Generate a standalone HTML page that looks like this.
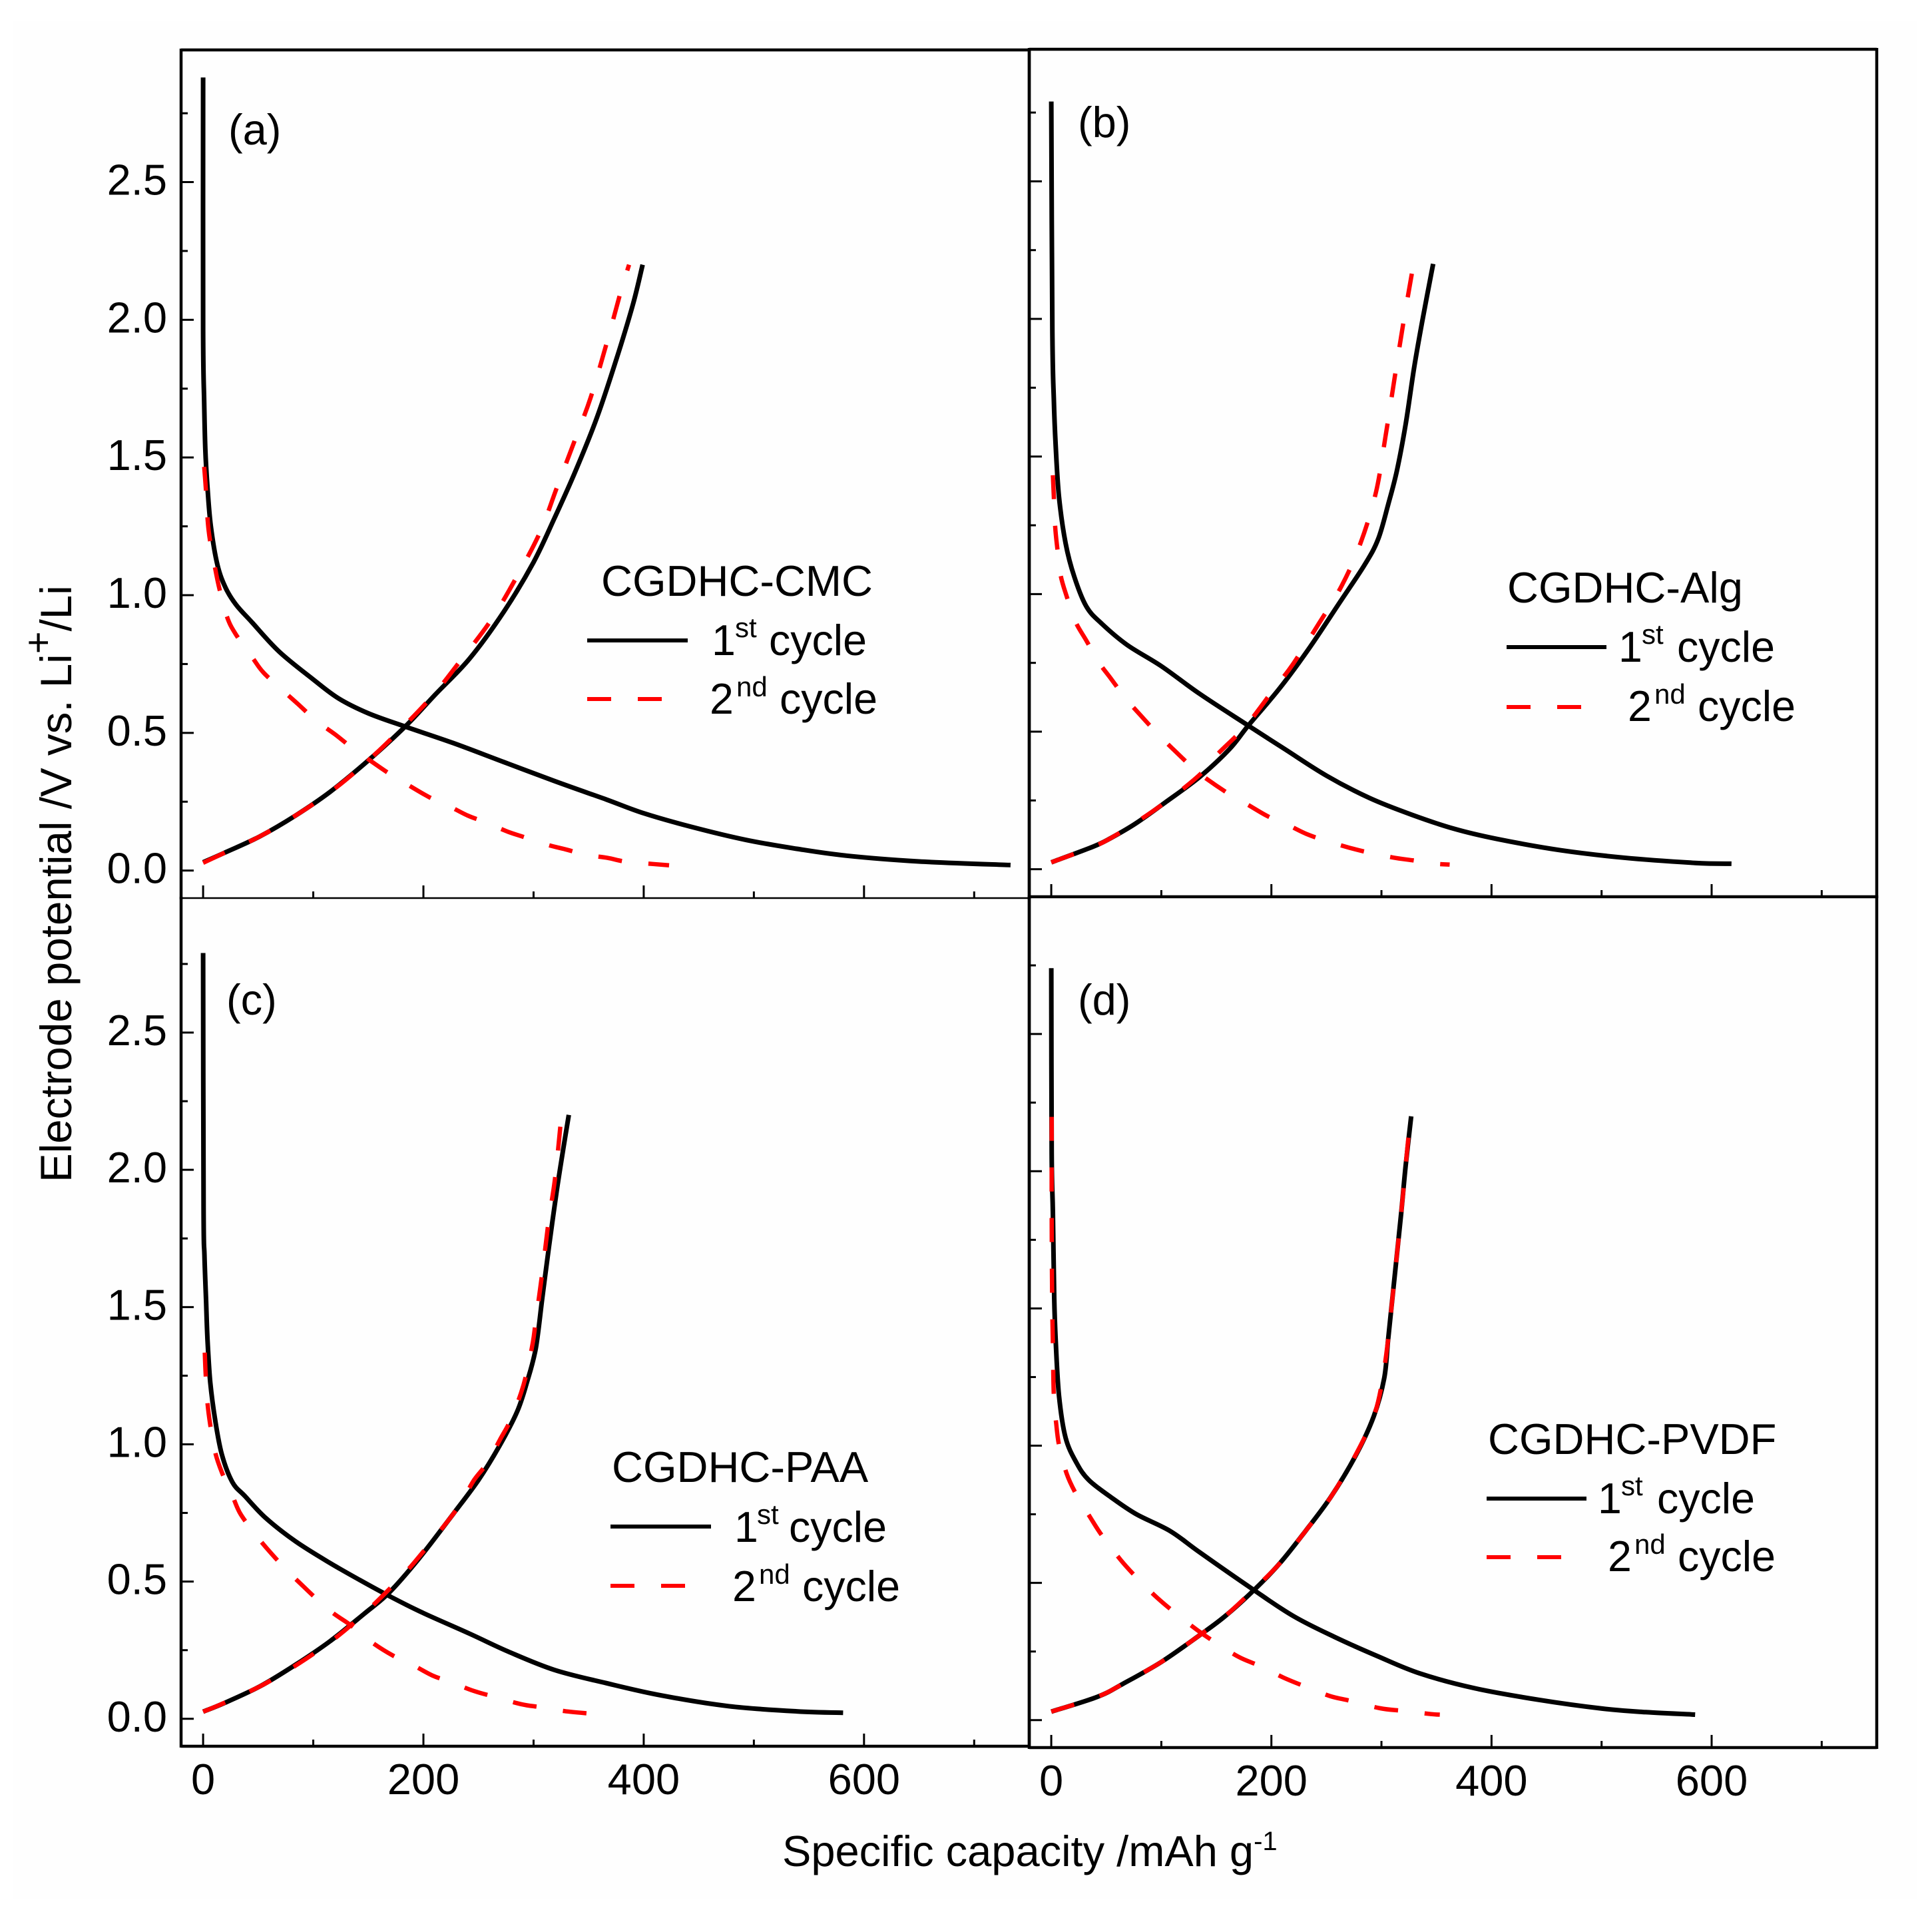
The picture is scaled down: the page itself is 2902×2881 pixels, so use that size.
<!DOCTYPE html>
<html lang="en">
<head>
<meta charset="utf-8">
<title>Electrode potential vs specific capacity</title>
<style>
html,body{margin:0;padding:0;background:#fff;width:2902px;height:2881px;overflow:hidden}
svg{display:block}
text{font-family:"Liberation Sans",Arial,sans-serif;fill:#000}
</style>
</head>
<body>
<svg id="chart" xmlns="http://www.w3.org/2000/svg" width="2902" height="2881" viewBox="0 0 2902 2881">
  <rect x="0" y="0" width="2902" height="2881" fill="#ffffff"/>
  <rect x="19" y="32" width="2860" height="2820" fill="#fefefe"/>
  <g id="marks"></g>

  <text transform="translate(107,1776) rotate(-90)" font-size="65.5">Electrode potential /V vs. Li<tspan font-size="58" dy="-30">+</tspan><tspan dy="30">/Li</tspan></text>
  <text x="1175" y="2803" font-size="65">Specific capacity /mAh g<tspan font-size="40" dy="-24">-1</tspan></text>

  <text x="343" y="217" font-size="65">(a)</text>
  <text x="1619" y="206" font-size="65">(b)</text>
  <text x="340" y="1524" font-size="65">(c)</text>
  <text x="1619" y="1524" font-size="65">(d)</text>

  <g>
    <text x="903" y="895" font-size="65">CGDHC-CMC</text>
    <line x1="882" y1="962" x2="1033" y2="962" stroke="#000" stroke-width="6"/>
    <line x1="882" y1="1050" x2="995" y2="1050" stroke="#f00" stroke-width="6" stroke-dasharray="36 40"/>
    <text x="1069" y="984" font-size="64.5">1<tspan font-size="42" x="1104" y="957">st</tspan><tspan x="1155" y="984">cycle</tspan></text>
    <text x="1066" y="1072" font-size="64.5">2<tspan font-size="42" x="1106" y="1046">nd</tspan><tspan x="1171" y="1072">cycle</tspan></text>
  </g>
  <g>
    <text x="2264" y="905" font-size="65">CGDHC-Alg</text>
    <line x1="2263" y1="972" x2="2413" y2="972" stroke="#000" stroke-width="6"/>
    <line x1="2263" y1="1062" x2="2376" y2="1062" stroke="#f00" stroke-width="6" stroke-dasharray="36 40"/>
    <text x="2431" y="994" font-size="64.5">1<tspan font-size="42" x="2466" y="967">st</tspan><tspan x="2519" y="994">cycle</tspan></text>
    <text x="2445" y="1083" font-size="64.5">2<tspan font-size="42" x="2485" y="1057">nd</tspan><tspan x="2550" y="1083">cycle</tspan></text>
  </g>
  <g>
    <text x="919" y="2226" font-size="65">CGDHC-PAA</text>
    <line x1="917" y1="2293" x2="1068" y2="2293" stroke="#000" stroke-width="6"/>
    <line x1="917" y1="2382" x2="1030" y2="2382" stroke="#f00" stroke-width="6" stroke-dasharray="36 40"/>
    <text x="1103" y="2316" font-size="64.5">1<tspan font-size="42" x="1137" y="2289">st</tspan><tspan x="1185" y="2316">cycle</tspan></text>
    <text x="1100" y="2405" font-size="64.5">2<tspan font-size="42" x="1140" y="2379">nd</tspan><tspan x="1205" y="2405">cycle</tspan></text>
  </g>
  <g>
    <text x="2235" y="2184" font-size="65">CGDHC-PVDF</text>
    <line x1="2233" y1="2251" x2="2383" y2="2251" stroke="#000" stroke-width="6"/>
    <line x1="2233" y1="2339" x2="2346" y2="2339" stroke="#f00" stroke-width="6" stroke-dasharray="36 40"/>
    <text x="2400" y="2273" font-size="64.5">1<tspan font-size="42" x="2435" y="2246">st</tspan><tspan x="2489" y="2273">cycle</tspan></text>
    <text x="2415" y="2360" font-size="64.5">2<tspan font-size="42" x="2455" y="2334">nd</tspan><tspan x="2520" y="2360">cycle</tspan></text>
  </g>
</svg>
<script>
// Tick values and labels
const xMajorTicks = [0, 200, 400, 600];
const xMinorTicks = [100, 300, 500, 700];
const xTickLabels = ['0', '200', '400', '600'];
const yMajorTicks = [0, 0.5, 1, 1.5, 2, 2.5];
const yMinorTicks = [0.25, 0.75, 1.25, 1.75, 2.25, 2.75];
const yTickLabels = ['0.0', '0.5', '1.0', '1.5', '2.0', '2.5'];

// Panel (a) CGDHC-CMC
const aFirstDischargeCap = [0,0,1,2,4,7,13,20.5,30,44,69,100,123,150,184,227,273,319,366,400,443,493,539,584,650,733];
const aFirstDischargeV = [2.88,1.96,1.7,1.53,1.39,1.25,1.11,1.026,0.965,0.903,0.795,0.694,0.625,0.571,0.522,0.463,0.394,0.325,0.258,0.208,0.159,0.111,0.079,0.054,0.033,0.02];
const aFirstChargeCap = [0,18,51,84,115,150,184,211,242,273,300,319,338,358,377,390.5,399];
const aFirstChargeV = [0.03,0.062,0.123,0.2,0.285,0.4,0.525,0.64,0.77,0.94,1.12,1.28,1.45,1.65,1.88,2.06,2.2];
const aSecondDischargeCap = [1,2.4,5,11,15,22,30,45,55,74,86,103,120,136,150,169,184,205,221,240,256,276,291,313,329,348,367,381,396,423];
const aSecondDischargeV = [1.466,1.39,1.235,1.096,1.02,0.918,0.856,0.772,0.718,0.648,0.605,0.543,0.494,0.443,0.404,0.352,0.316,0.267,0.239,0.2,0.176,0.142,0.122,0.093,0.077,0.057,0.046,0.034,0.028,0.019];
const aSecondChargeCap = [0,17,51,84,117,150,180.5,209.5,234,261.5,284.5,305.7,321,338.5,352,367.4,379,386.7];
const aSecondChargeV = [0.028,0.06,0.123,0.2,0.29,0.4,0.517,0.64,0.764,0.91,1.065,1.227,1.389,1.574,1.72,1.93,2.1,2.2];

// Panel (b) CGDHC-Alg
const bFirstDischargeCap = [0,1,2.3,4,7,13,21,32,46,69,100,135,179,212,250,289,327.5,366,405,463,520,585,618];
const bFirstDischargeV = [2.79,1.957,1.71,1.54,1.355,1.185,1.062,0.954,0.892,0.815,0.738,0.637,0.522,0.437,0.34,0.259,0.198,0.147,0.11,0.069,0.042,0.023,0.02];
const bFirstChargeCap = [0,38,54,77,104,135,162,179,208,235,262,285,297,306,314,322,329.5,337,347];
const bFirstChargeV = [0.025,0.082,0.113,0.167,0.244,0.336,0.437,0.522,0.66,0.807,0.969,1.108,1.2,1.324,1.448,1.617,1.818,1.99,2.2];
const bSecondDischargeCap = [1.5,2.3,3.5,5.4,8.5,14,22,32,43,54,68,81,96,109.5,129,141,162,178,196,212,232,250,270,287,310,329,349,362];
const bSecondDischargeV = [1.432,1.355,1.247,1.17,1.069,0.992,0.9,0.83,0.753,0.694,0.619,0.56,0.495,0.441,0.367,0.329,0.272,0.236,0.194,0.167,0.128,0.103,0.079,0.062,0.043,0.032,0.02,0.017];
const bSecondChargeCap = [0,38,54,77,106,135,150,177,202,219.5,243,264,281,295,303.6,312,320,328];
const bSecondChargeV = [0.025,0.082,0.113,0.17,0.25,0.344,0.414,0.522,0.653,0.745,0.892,1.031,1.185,1.37,1.571,1.787,1.988,2.173];

// Panel (c) CGDHC-PAA
const cFirstDischargeCap = [0,0.4,1.2,2.7,4,6.5,11,17,26.6,38,57,84,115,142,170,200,242,277,319,366,416,477,539,581];
const cFirstDischargeV = [2.79,1.86,1.69,1.52,1.38,1.226,1.087,0.963,0.862,0.811,0.731,0.646,0.568,0.506,0.445,0.385,0.31,0.245,0.178,0.13,0.085,0.046,0.027,0.022];
const cFirstChargeCap = [0,19,52,84,115,146,169,196,227,250,269,285,294,302,308,314,321,327,332];
const cFirstChargeV = [0.026,0.057,0.119,0.197,0.282,0.382,0.46,0.584,0.746,0.87,0.994,1.118,1.226,1.35,1.536,1.72,1.923,2.077,2.2];
const cSecondDischargeCap = [1.5,2.3,4,6.5,11,17,27,34,48,60,75,88,104,118,134,152,172,190,208,226,246,265.5,289,307,328,348];
const cSecondDischargeV = [1.334,1.257,1.149,1.071,0.97,0.898,0.808,0.746,0.669,0.611,0.545,0.494,0.433,0.385,0.341,0.282,0.231,0.197,0.158,0.132,0.101,0.079,0.053,0.042,0.028,0.02];
const cSecondChargeCap = [0,17,52,84,117,148,181,198,224,235,246,258,269.5,279,288.6,294,299.4,302,308,313.7,319.5,325];
const cSecondChargeV = [0.026,0.054,0.119,0.194,0.285,0.39,0.522,0.6,0.73,0.793,0.87,0.932,1.017,1.087,1.187,1.265,1.373,1.45,1.628,1.814,1.969,2.186];

// Panel (d) CGDHC-PVDF
const dFirstDischargeCap = [0,0.4,1.5,2.7,4,7,13,23,34,54,77,108,135,183,220,258,297,335,385,443,501,540,585];
const dFirstDischargeV = [2.74,2.067,1.85,1.54,1.385,1.184,1.029,0.937,0.875,0.813,0.751,0.689,0.611,0.477,0.379,0.302,0.232,0.17,0.116,0.074,0.042,0.029,0.02];
const dFirstChargeCap = [0,42,65,100,135,158,185,208,231,254,277,293,302.5,306,310,314,318,322,327];
const dFirstChargeV = [0.031,0.085,0.132,0.212,0.31,0.379,0.477,0.573,0.689,0.813,0.967,1.107,1.246,1.385,1.54,1.695,1.85,2.02,2.2];
const dSecondDischargeCap = [0.4,0.4,0.8,1.5,2.3,4.6,7.3,14,22,36,46,63,76,94,110,132,148,170,189,211,229,253,272,299,319,345,353];
const dSecondDischargeV = [2.198,1.85,1.54,1.37,1.184,1.076,0.998,0.898,0.828,0.735,0.673,0.584,0.526,0.454,0.399,0.33,0.286,0.231,0.198,0.155,0.125,0.088,0.07,0.043,0.034,0.022,0.02];
const dSecondChargeCap = [0,42,65,100,135,158,185,208,231,254,277,293,300.5,306,310,314,318,322,325];
const dSecondChargeV = [0.031,0.085,0.132,0.212,0.31,0.379,0.48,0.573,0.689,0.813,0.97,1.107,1.23,1.385,1.54,1.695,1.85,2.02,2.144];

const NS = 'http://www.w3.org/2000/svg';
const marks = document.getElementById('marks');

function makeScale(d0, d1, r0, r1) {
  return function (v) { return r0 + (v - d0) * (r1 - r0) / (d1 - d0); };
}

const panels = [
  { id: 'a', left: 272, right: 1546, top: 75, bottom: 1349, yMin: -0.1, yMax: 2.98, labelY: true, labelX: false,
    curves: [[aFirstDischargeCap, aFirstDischargeV, aFirstChargeCap, aFirstChargeV], [aSecondDischargeCap, aSecondDischargeV, aSecondChargeCap, aSecondChargeV]] },
  { id: 'b', left: 1546, right: 2819, top: 74, bottom: 1347, yMin: -0.1, yMax: 2.98, labelY: false, labelX: false,
    curves: [[bFirstDischargeCap, bFirstDischargeV, bFirstChargeCap, bFirstChargeV], [bSecondDischargeCap, bSecondDischargeV, bSecondChargeCap, bSecondChargeV]] },
  { id: 'c', left: 272, right: 1546, top: 1349, bottom: 2623, yMin: -0.1, yMax: 2.99, labelY: true, labelX: true,
    curves: [[cFirstDischargeCap, cFirstDischargeV, cFirstChargeCap, cFirstChargeV], [cSecondDischargeCap, cSecondDischargeV, cSecondChargeCap, cSecondChargeV]] },
  { id: 'd', left: 1546, right: 2819, top: 1347, bottom: 2625, yMin: -0.1, yMax: 3.0, labelY: false, labelX: true,
    curves: [[dFirstDischargeCap, dFirstDischargeV, dFirstChargeCap, dFirstChargeV], [dSecondDischargeCap, dSecondDischargeV, dSecondChargeCap, dSecondChargeV]] }
];

function drawLine(parent, x1, y1, x2, y2, width) {
  const el = document.createElementNS(NS, 'line');
  el.setAttribute('x1', x1);
  el.setAttribute('y1', y1);
  el.setAttribute('x2', x2);
  el.setAttribute('y2', y2);
  el.setAttribute('stroke', '#000');
  el.setAttribute('stroke-width', width);
  parent.appendChild(el);
  return el;
}

function drawTickLabel(parent, x, y, anchor, content) {
  const el = document.createElementNS(NS, 'text');
  el.setAttribute('x', x);
  el.setAttribute('y', y);
  el.setAttribute('font-size', '65');
  el.setAttribute('text-anchor', anchor);
  el.textContent = content;
  parent.appendChild(el);
  return el;
}

// Smooth path through the data points (Catmull-Rom to cubic Bezier)
function drawCurve(parent, caps, volts, xs, ys, color, dashed) {
  const px = caps.map(xs);
  const py = volts.map(ys);
  const n = px.length;
  let d = 'M' + px[0].toFixed(1) + ' ' + py[0].toFixed(1);
  for (let i = 0; i < n - 1; i++) {
    const a = Math.max(i - 1, 0);
    const b = Math.min(i + 2, n - 1);
    const c1x = px[i] + (px[i + 1] - px[a]) / 6;
    const c1y = py[i] + (py[i + 1] - py[a]) / 6;
    const c2x = px[i + 1] - (px[b] - px[i]) / 6;
    const c2y = py[i + 1] - (py[b] - py[i]) / 6;
    d += 'C' + c1x.toFixed(1) + ' ' + c1y.toFixed(1) + ' ' + c2x.toFixed(1) + ' ' + c2y.toFixed(1) + ' ' + px[i + 1].toFixed(1) + ' ' + py[i + 1].toFixed(1);
  }
  const el = document.createElementNS(NS, 'path');
  el.setAttribute('d', d);
  el.setAttribute('fill', 'none');
  el.setAttribute('stroke', color);
  el.setAttribute('stroke-width', dashed ? '6.5' : '7');
  el.setAttribute('stroke-linejoin', 'round');
  if (dashed) el.setAttribute('stroke-dasharray', '36 40');
  parent.appendChild(el);
  return el;
}

panels.forEach(function (p) {
  const xs = makeScale(-20, 750, p.left, p.right);
  const ys = makeScale(p.yMin, p.yMax, p.bottom, p.top);
  const g = document.createElementNS(NS, 'g');
  
  
  marks.appendChild(g);

  xMajorTicks.forEach(function (v, i) {
    const t = drawLine(g, xs(v), p.bottom, xs(v), p.bottom - 19, 3);
    
    
    if (p.labelX) {
      const l = drawTickLabel(g, xs(v), p.bottom + 72, 'middle', xTickLabels[i]);
      
      
    }
  });
  xMinorTicks.forEach(function (v) {
    const t = drawLine(g, xs(v), p.bottom, xs(v), p.bottom - 10, 3);
    
    
  });
  yMajorTicks.forEach(function (v, i) {
    const t = drawLine(g, p.left, ys(v), p.left + 19, ys(v), 3);
    
    
    if (p.labelY) {
      const l = drawTickLabel(g, 251, ys(v) + 19, 'end', yTickLabels[i]);
      
      
    }
  });
  yMinorTicks.forEach(function (v) {
    const t = drawLine(g, p.left, ys(v), p.left + 10, ys(v), 3);
    
    
  });

  const first = p.curves[0];
  const second = p.curves[1];
  const c1 = drawCurve(g, first[0], first[1], xs, ys, '#000', false);
  
  
  const c2 = drawCurve(g, first[2], first[3], xs, ys, '#000', false);
  
  
  const c3 = drawCurve(g, second[0], second[1], xs, ys, '#f00', true);
  
  
  const c4 = drawCurve(g, second[2], second[3], xs, ys, '#f00', true);
  
  

  // Frame
  const fl = drawLine(g, p.left, p.top - 2, p.left, p.bottom + 2, 4.5);
  
  
  const fr = drawLine(g, p.right, p.top - 2, p.right, p.bottom + 2, 4.5);
  
  
  const fb = drawLine(g, p.left, p.bottom, p.right, p.bottom, p.id === 'a' ? 2.5 : 4.5);
  
  
  if (p.id === 'a' || p.id === 'b') {
    const ft = drawLine(g, p.left, p.top, p.right, p.top, 4.5);
    
    
  }
});
</script>
</body>
</html>
